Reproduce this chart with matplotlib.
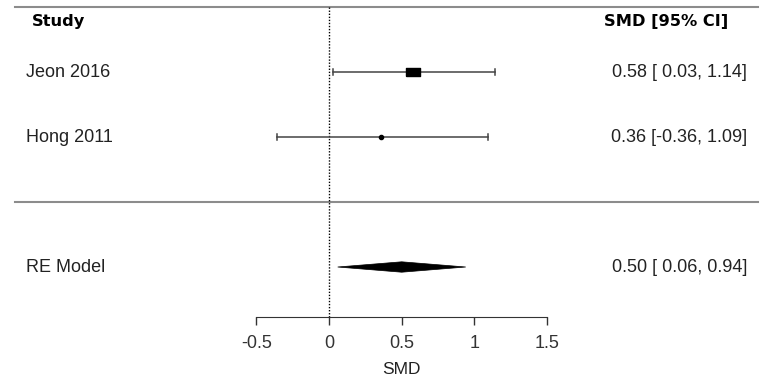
import numpy as np
import matplotlib.pyplot as plt
from matplotlib.transforms import blended_transform_factory

# study data
studies = ["Jeon 2016", "Hong 2011"]
smd = [0.58, 0.36]
ci_lo = [0.03, -0.36]
ci_hi = [1.14, 1.09]
rows = [2, 1]
marker_sizes = [10, 3]

# random-effects summary
re_label = "RE Model"
re_est, re_lo, re_hi = 0.50, 0.06, 0.94
re_row = -1

xticks = [-0.5, 0, 0.5, 1, 1.5]
xticklabels = ["-0.5", "0", "0.5", "1", "1.5"]

plt.rcParams["font.family"] = ["Liberation Sans", "DejaVu Sans"]

fig = plt.figure(figsize=(7.72, 3.84), dpi=100)
ax = fig.add_axes([0, 0, 1, 1])
ax.set_xlim(-2.261, 3.045)
ax.set_ylim(-2.80, 3.108)
lbl = blended_transform_factory(ax.transAxes, ax.transData)

# horizontal rules and the reference line at 0
ax.plot([0.019, 0.982], [3, 3], transform=lbl, color="#8c8c8c", lw=1.5)
ax.plot([0.019, 0.982], [0, 0], transform=lbl, color="#8c8c8c", lw=1.5)
ax.plot([0, 0], [3, -1.77], color="black", lw=1, ls=(0, (1, 1.2)))

# study CIs and point estimates
rect = [(-1, -0.6), (1, -0.6), (1, 0.6), (-1, 0.6), (-1, -0.6)]
for r, m, lo, hi, ms in zip(rows, smd, ci_lo, ci_hi, marker_sizes):
    ax.plot([lo, hi], [r, r], color="#444444", lw=1.1)
    ax.plot([lo, lo], [r - 0.04, r + 0.04], color="#444444", lw=1.1)
    ax.plot([hi, hi], [r - 0.04, r + 0.04], color="#444444", lw=1.1)
    ax.plot(m, r, marker=rect if ms > 5 else "o", ms=ms, color="black", mec="black")

# summary diamond
h = 0.08
ax.fill([re_lo, re_est, re_hi, re_est], [re_row, re_row + h, re_row, re_row - h],
        color="black", lw=0.5)

# text columns
fs = 13
ax.text(0.041, 2.77, "Study", transform=lbl, fontsize=11.7, fontweight="bold",
        family="DejaVu Sans", va="center", ha="left")
ax.text(0.782, 2.77, "SMD [95% CI]", transform=lbl, fontsize=11.7, fontweight="bold",
        family="DejaVu Sans", va="center", ha="left")
for r, name, m, lo, hi in zip(rows, studies, smd, ci_lo, ci_hi):
    ax.text(0.034, r, name, transform=lbl, fontsize=fs, va="center", ha="left", color="#222222")
    ax.text(0.968, r, f"{m:.2f} [{lo:5.2f}, {hi:.2f}]", transform=lbl, fontsize=fs,
            va="center", ha="right", color="#222222")
ax.text(0.034, re_row, re_label, transform=lbl, fontsize=fs, va="center", ha="left", color="#222222")
ax.text(0.968, re_row, f"{re_est:.2f} [{re_lo:5.2f}, {re_hi:.2f}]", transform=lbl, fontsize=fs,
        va="center", ha="right", color="#222222")

# x axis
for s in ["top", "left", "right"]:
    ax.spines[s].set_visible(False)
ax.spines["bottom"].set_position(("data", -1.77))
ax.spines["bottom"].set_bounds(-0.5, 1.5)
ax.spines["bottom"].set_color("#333333")
ax.set_xticks(xticks)
ax.set_xticklabels(xticklabels, fontsize=13, color="#222222")
ax.tick_params(axis="x", direction="out", length=6, width=1, pad=7, colors="#333333")
ax.set_yticks([])
ax.text(0.5, -2.57, "SMD", fontsize=12.5, ha="center", va="center", color="#222222")

fig.savefig("out.png", dpi=100)
